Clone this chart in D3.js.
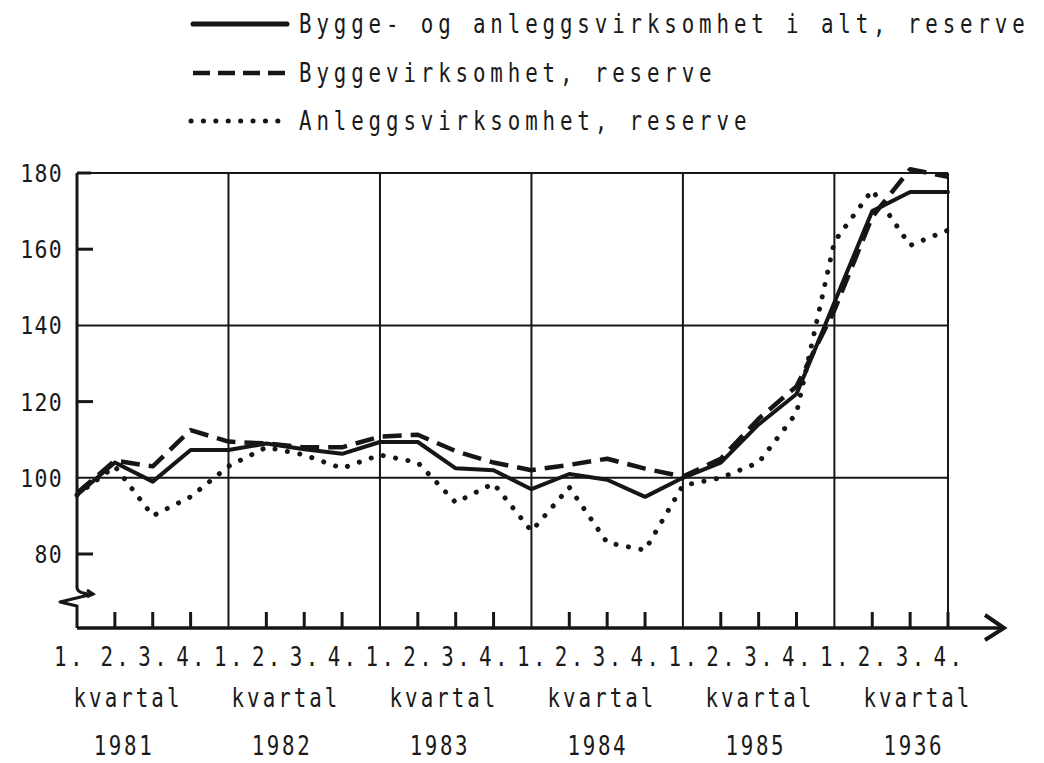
<!DOCTYPE html>
<html>
<head>
<meta charset="utf-8">
<script src="https://cdn.jsdelivr.net/npm/d3@7"></script>
<style>
  html, body { margin: 0; padding: 0; background: #fff; }
  svg { display: block; }
  text { font-family: "DejaVu Sans Mono", "Liberation Mono", monospace; fill: #1a1a1a; }
</style>
</head>
<body>
<svg id="chart" width="1044" height="763"></svg>
<script>
// ---------- data ----------
const years = ["1981", "1982", "1983", "1984", "1985", "1936"];
const quarterLabels = ["1.", "2.", "3.", "4."];
const yTickValues = [80, 100, 120, 140, 160, 180];
const yGridValues = [100, 140, 180];
const seriesNames = [
  "Bygge- og anleggsvirksomhet i alt, reserve",
  "Byggevirksomhet, reserve",
  "Anleggsvirksomhet, reserve"
];
// quarterly values 1981 Q1 ... 1986 Q4
const totalValues = [95.5, 104, 99, 107.3, 107.3, 109, 107.5, 106.3, 109.4, 109.4, 102.5, 102,
                     97, 101, 99.5, 95, 100, 104, 114, 122, 146, 170, 175, 175];
const byggeValues = [96, 104.5, 103, 112.5, 109.5, 109, 108, 108, 110.8, 111.3, 107, 104,
                     102, 103.4, 105, 102.4, 100.3, 105, 115.5, 124, 144, 168.5, 181, 179];
const anleggValues = [95.5, 103, 90, 95, 103, 108, 106, 102.5, 106, 104, 93.5, 98.5,
                      86, 97.5, 83, 81, 98, 100, 104, 117, 162, 175.5, 161, 165];

// ---------- layout ----------
const svg = d3.select("#chart");
const nQ = years.length * 4;
const x = d3.scaleLinear().domain([0, nQ - 1]).range([77, 948]);
const y = d3.scaleLinear().domain([80, 180]).range([554, 173]);
const axisY = 628;
const ink = "#161616";

// condensed typewriter-like text: font size, horizontal squeeze, letter spacing
function typeText(sel, size, sx, ls) {
  return sel.attr("font-size", size).attr("letter-spacing", ls)
    .attr("transform", function () {
      const tx = +this.getAttribute("data-x"), ty = +this.getAttribute("data-y");
      return `translate(${tx},${ty}) scale(${sx},1)`;
    });
}

const g = svg.append("g");

// horizontal grid lines
g.selectAll("line.hgrid").data(yGridValues).join("line")
  .attr("x1", x(0)).attr("x2", x(nQ - 1))
  .attr("y1", d => y(d)).attr("y2", d => y(d))
  .attr("stroke", ink).attr("stroke-width", 2);

// short y ticks for the other values
g.selectAll("line.ytick").data(yTickValues.filter(v => !yGridValues.includes(v))).join("line")
  .attr("x1", x(0)).attr("x2", x(0) + 16)
  .attr("y1", d => y(d)).attr("y2", d => y(d))
  .attr("stroke", ink).attr("stroke-width", 3);

// vertical year lines + right border
const yearStarts = d3.range(1, years.length).map(k => k * 4);
g.selectAll("line.vgrid").data(yearStarts.concat([nQ - 1])).join("line")
  .attr("x1", d => x(d)).attr("x2", d => x(d))
  .attr("y1", y(180)).attr("y2", axisY)
  .attr("stroke", ink).attr("stroke-width", 2);

// quarter ticks on x axis
g.selectAll("line.xtick").data(d3.range(nQ).filter(i => i % 4 !== 0)).join("line")
  .attr("x1", d => x(d)).attr("x2", d => x(d))
  .attr("y1", axisY - 16).attr("y2", axisY)
  .attr("stroke", ink).attr("stroke-width", 3);

// left axis with break
const x0 = x(0);
g.append("path")
  .attr("d", `M${x0},${y(180)} L${x0},${y(80) + 34} Q${x0 + 1},${y(80) + 40} ${x0 + 16},${y(80) + 40}
              L${x0 - 17},${y(80) + 48} L${x0},${y(80) + 52} L${x0},${axisY}`)
  .attr("fill", "none").attr("stroke", ink).attr("stroke-width", 3).attr("stroke-linejoin", "round");
g.append("path")
  .attr("d", `M${x0 + 10},${y(80) + 36} L${x0 + 16},${y(80) + 40} L${x0 + 10},${y(80) + 43}`)
  .attr("fill", "none").attr("stroke", ink).attr("stroke-width", 3);

// x axis with arrow
g.append("line").attr("x1", x0).attr("x2", 1003).attr("y1", axisY).attr("y2", axisY)
  .attr("stroke", ink).attr("stroke-width", 3.5);
g.append("path").attr("d", `M985,${axisY - 13} L1004,${axisY} L985,${axisY + 12}`)
  .attr("fill", "none").attr("stroke", ink).attr("stroke-width", 4).attr("stroke-linejoin", "miter");

// top frame corner weight
g.append("line").attr("x1", x0).attr("x2", x0 + 14).attr("y1", y(180)).attr("y2", y(180))
  .attr("stroke", ink).attr("stroke-width", 3);

// y labels
typeText(g.selectAll("text.ylab").data(yTickValues).join("text")
  .attr("data-x", 63).attr("data-y", d => y(d) + 9)
  .attr("text-anchor", "end")
  .text(d => d), 25, 0.86, 1.5);

// quarter labels
typeText(g.selectAll("text.qlab").data(d3.range(nQ)).join("text")
  .attr("data-x", i => x(i) + (i === 0 ? -7 : 1.5)).attr("data-y", 666)
  .attr("text-anchor", "middle")
  .text(i => quarterLabels[i % 4]), 26, 0.8, 4.3);

// "kvartal" and year labels
typeText(g.selectAll("text.kv").data(years).join("text")
  .attr("data-x", (d, k) => x(k * 4) + 51 + 6.5 * k).attr("data-y", 707)
  .attr("text-anchor", "middle")
  .text("kvartal"), 26, 0.8, 3.8);
typeText(g.selectAll("text.yr").data(years).join("text")
  .attr("data-x", (d, k) => x(k * 4) + 47 + 6.5 * k).attr("data-y", 755)
  .attr("text-anchor", "middle")
  .text(d => d), 26, 0.8, 3.3);

// ---------- series ----------
const line = d3.line().x((d, i) => x(i)).y(d => y(d));
const styles = [
  { values: totalValues, width: 4, dash: null, cap: "round" },
  { values: byggeValues, width: 4.5, dash: "19,9", cap: "butt" },
  { values: anleggValues, width: 5, dash: "0.1,12.5", cap: "round" }
];
const plot = svg.append("g");
styles.slice().reverse().forEach(s => {
  plot.append("path").datum(s.values)
    .attr("d", line)
    .attr("fill", "none").attr("stroke", ink)
    .attr("stroke-width", s.width)
    .attr("stroke-linejoin", "round")
    .attr("stroke-linecap", s.cap)
    .attr("stroke-dasharray", s.dash);
});

// ---------- legend ----------
const legendRows = [24, 73, 121];
const legend = svg.append("g");
styles.forEach((s, i) => {
  legend.append("line")
    .attr("x1", i === 2 ? 191 : 193).attr("x2", i === 2 ? 290 : 287)
    .attr("y1", legendRows[i]).attr("y2", legendRows[i])
    .attr("stroke", ink).attr("stroke-width", i === 0 ? 5 : s.width)
    .attr("stroke-linecap", s.cap)
    .attr("stroke-dasharray", i === 1 ? "17,8" : (i === 2 ? "0.1,12.3" : null));
  typeText(legend.append("text")
    .attr("data-x", 299).attr("data-y", legendRows[i] + 9)
    .text(seriesNames[i]), 26, 0.8, 6.1);
});
</script>
</body>
</html>
